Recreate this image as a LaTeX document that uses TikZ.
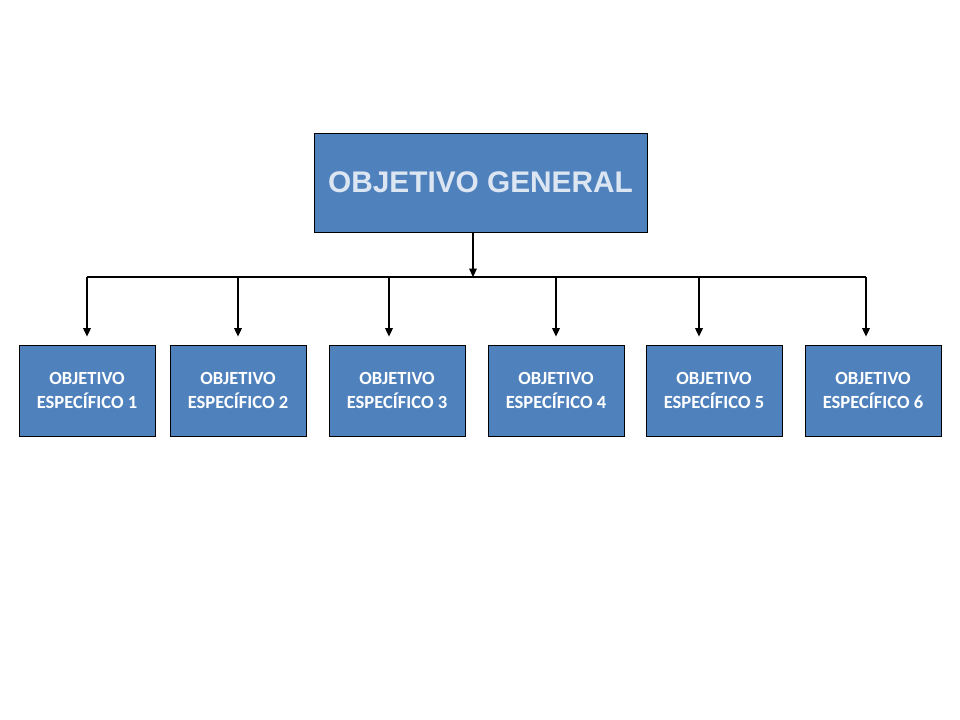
\documentclass[tikz,border=0pt]{standalone}
\usepackage{fontspec}
\setmainfont{Carlito}
\newfontfamily\genfont{Liberation Sans}
\usetikzlibrary{arrows.meta}
\definecolor{cajaazul}{RGB}{79,129,189}
\definecolor{textoclaro}{RGB}{220,230,242}

\begin{document}
\begin{tikzpicture}[x=0.025cm, y=-0.025cm,
		general/.style={draw=black, line width=0.6pt, fill=cajaazul, minimum width=8.325cm, minimum height=2.475cm, text=textoclaro, font=\genfont\bfseries\fontsize{21.2}{25}\selectfont},
		especifico/.style={draw=black, line width=0.6pt, fill=cajaazul, minimum width=3.4cm, minimum height=2.275cm, text=white, align=center, font=\bfseries\fontsize{13.2}{17}\selectfont},
		flecha/.style={line width=0.8pt, -{Triangle[width=5.5pt,length=6pt]}}]
			%%%%% START %%%%%
			
			\useasboundingbox (0,0) rectangle (960,720);
			
			\node[general] (og) at (480.5,182.5) {OBJETIVO GENERAL};
			
			\foreach \n/\cx/\ax in {1/87/87, 2/238/238, 3/397/389, 4/556/556, 5/714/699, 6/873/866} {
				\node[especifico] (oe\n) at (\cx,390.5) {OBJETIVO\\ESPECÍFICO \n};
				\coordinate (b\n) at (\ax,277);
			}
			
			\coordinate (bg) at (473,277);
			\draw[flecha] (bg |- og.south) -- (bg);
			\draw[line width=0.8pt] (b1) -- (b6);
			
			\foreach \n in {1,...,6}
				\draw[flecha, shorten >=0.2cm] (b\n) -- (b\n |- oe\n.north);
			
			%%%%% END %%%%%
\end{tikzpicture}
\end{document}
